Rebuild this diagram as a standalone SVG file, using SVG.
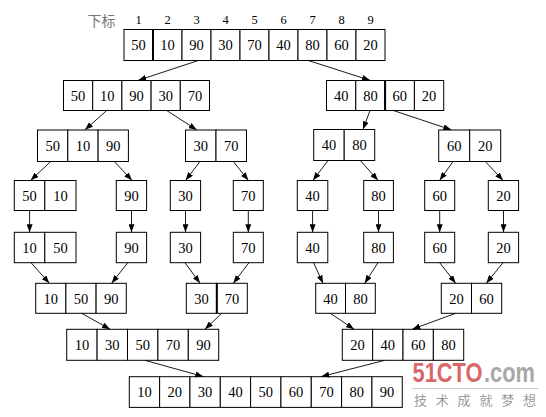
<svg xmlns="http://www.w3.org/2000/svg" width="546" height="417" viewBox="0 0 546 417">
<style>
.c{fill:#fff;stroke:#000;stroke-width:1}
.t{font-family:"Liberation Serif","Times New Roman",serif;font-size:14.5px;fill:#000;text-anchor:middle}
.i{font-family:"Liberation Serif","Times New Roman",serif;font-size:12.5px;fill:#000;text-anchor:middle}
.e{stroke:#000;stroke-width:0.9;fill:none;marker-end:url(#ah)}
.w{font-family:"Liberation Sans",Arial,sans-serif;font-weight:bold;font-size:28px}
</style>
<defs>
<marker id="ah" markerUnits="userSpaceOnUse" markerWidth="8" markerHeight="6" refX="8" refY="3" orient="auto">
<path d="M0,0 L8,3 L0,6 z" fill="#000"/>
</marker>
</defs>
<rect width="546" height="417" fill="#fff"/>

<g id="index">
<text x="101.5" y="25.5" style="font-family:'Noto Sans CJK SC',sans-serif;font-size:14px;fill:#777;text-anchor:middle">下标</text>
<text class="i" x="138.5" y="24">1</text><text class="i" x="167.5" y="24">2</text><text class="i" x="196.5" y="24">3</text><text class="i" x="225.5" y="24">4</text><text class="i" x="254.5" y="24">5</text><text class="i" x="283.5" y="24">6</text><text class="i" x="312.5" y="24">7</text><text class="i" x="341.5" y="24">8</text><text class="i" x="370.5" y="24">9</text>
</g>

<g id="n_top">
<rect class="c" x="124" y="29.5" width="29" height="31"/><rect class="c" x="153" y="29.5" width="29" height="31"/><rect class="c" x="182" y="29.5" width="29" height="31"/><rect class="c" x="211" y="29.5" width="29" height="31"/><rect class="c" x="240" y="29.5" width="29" height="31"/><rect class="c" x="269" y="29.5" width="29" height="31"/><rect class="c" x="298" y="29.5" width="29" height="31"/><rect class="c" x="327" y="29.5" width="29" height="31"/><rect class="c" x="356" y="29.5" width="29" height="31"/>
<line x1="153" y1="29.5" x2="153" y2="60.5" stroke="#000" stroke-width="2"/>
<text class="t" x="138.5" y="50">50</text><text class="t" x="167.5" y="50">10</text><text class="t" x="196.5" y="50">90</text><text class="t" x="225.5" y="50">30</text><text class="t" x="254.5" y="50">70</text><text class="t" x="283.5" y="50">40</text><text class="t" x="312.5" y="50">80</text><text class="t" x="341.5" y="50">60</text><text class="t" x="370.5" y="50">20</text>
</g>

<g id="n_r2_left">
<rect class="c" x="63.5" y="80.5" width="29.2" height="30"/><rect class="c" x="92.7" y="80.5" width="29.2" height="30"/><rect class="c" x="121.9" y="80.5" width="29.2" height="30"/><rect class="c" x="151.1" y="80.5" width="29.2" height="30"/><rect class="c" x="180.3" y="80.5" width="29.2" height="30"/>
<text class="t" x="78.1" y="100.5">50</text><text class="t" x="107.3" y="100.5">10</text><text class="t" x="136.5" y="100.5">90</text><text class="t" x="165.7" y="100.5">30</text><text class="t" x="194.9" y="100.5">70</text>
</g>
<g id="n_r2_right">
<rect class="c" x="326.5" y="80.5" width="29.3" height="30"/><rect class="c" x="355.8" y="80.5" width="29.3" height="30"/><rect class="c" x="385.1" y="80.5" width="29.3" height="30"/><rect class="c" x="414.4" y="80.5" width="29.3" height="30"/>
<line x1="385.1" y1="80.5" x2="385.1" y2="110.5" stroke="#000" stroke-width="2"/>
<text class="t" x="341.2" y="100.5">40</text><text class="t" x="370.5" y="100.5">80</text><text class="t" x="399.8" y="100.5">60</text><text class="t" x="429.1" y="100.5">20</text>
</g>

<g id="n_r3_a">
<rect class="c" x="37.5" y="130" width="30.3" height="31.5"/><rect class="c" x="67.8" y="130" width="30.3" height="31.5"/><rect class="c" x="98.1" y="130" width="30.3" height="31.5"/>
<text class="t" x="52.7" y="151">50</text><text class="t" x="83" y="151">10</text><text class="t" x="113.3" y="151">90</text>
</g>
<g id="n_r3_b">
<rect class="c" x="185.5" y="130" width="30.5" height="31.5"/><rect class="c" x="216" y="130" width="30.5" height="31.5"/>
<text class="t" x="200.8" y="151">30</text><text class="t" x="231.3" y="151">70</text>
</g>
<g id="n_r3_c">
<rect class="c" x="313.7" y="129.5" width="30.5" height="31"/><rect class="c" x="344.2" y="129.5" width="30.5" height="31"/>
<text class="t" x="329" y="150">40</text><text class="t" x="359.5" y="150">80</text>
</g>
<g id="n_r3_d">
<rect class="c" x="438.7" y="130" width="31" height="31.5"/><rect class="c" x="469.7" y="130" width="31" height="31.5"/>
<text class="t" x="454.2" y="151">60</text><text class="t" x="485.2" y="151">20</text>
</g>

<g id="n_r4_a">
<rect class="c" x="14.3" y="180.5" width="30.5" height="30"/><rect class="c" x="44.8" y="180.5" width="31.2" height="30"/>
<text class="t" x="29.6" y="200.5">50</text><text class="t" x="60.4" y="200.5">10</text>
</g>
<g id="n_r4_b"><rect class="c" x="116.3" y="180.5" width="30.3" height="30"/><text class="t" x="131.5" y="200.5">90</text></g>
<g id="n_r4_c"><rect class="c" x="170.3" y="180.5" width="30.3" height="30"/><text class="t" x="185.5" y="200.5">30</text></g>
<g id="n_r4_d"><rect class="c" x="233.3" y="180.5" width="30" height="30"/><text class="t" x="248.3" y="200.5">70</text></g>
<g id="n_r4_e"><rect class="c" x="297.3" y="180.5" width="30.5" height="30"/><text class="t" x="312.6" y="200.5">40</text></g>
<g id="n_r4_f"><rect class="c" x="363.7" y="180.5" width="29.7" height="30"/><text class="t" x="378.5" y="200.5">80</text></g>
<g id="n_r4_g"><rect class="c" x="424.7" y="180.5" width="30" height="30"/><text class="t" x="439.7" y="200.5">60</text></g>
<g id="n_r4_h"><rect class="c" x="488.3" y="180.5" width="30.3" height="30"/><text class="t" x="503.5" y="200.5">20</text></g>

<g id="n_r5_a">
<rect class="c" x="14.3" y="232.3" width="30.5" height="30.4"/><rect class="c" x="44.8" y="232.3" width="31.2" height="30.4"/>
<text class="t" x="29.6" y="252.5">10</text><text class="t" x="60.4" y="252.5">50</text>
</g>
<g id="n_r5_b"><rect class="c" x="116.3" y="232.3" width="30.3" height="30.4"/><text class="t" x="131.5" y="252.5">90</text></g>
<g id="n_r5_c"><rect class="c" x="170.3" y="232.3" width="30.3" height="30.4"/><text class="t" x="185.5" y="252.5">30</text></g>
<g id="n_r5_d"><rect class="c" x="233.3" y="232.3" width="30" height="30.4"/><text class="t" x="248.3" y="252.5">70</text></g>
<g id="n_r5_e"><rect class="c" x="297.3" y="232.3" width="30.5" height="30.4"/><text class="t" x="312.6" y="252.5">40</text></g>
<g id="n_r5_f"><rect class="c" x="363.7" y="232.3" width="29.7" height="30.4"/><text class="t" x="378.5" y="252.5">80</text></g>
<g id="n_r5_g"><rect class="c" x="424.7" y="232.3" width="30" height="30.4"/><text class="t" x="439.7" y="252.5">60</text></g>
<g id="n_r5_h"><rect class="c" x="488.3" y="232.3" width="30.3" height="30.4"/><text class="t" x="503.5" y="252.5">20</text></g>

<g id="n_r6_a">
<rect class="c" x="35.7" y="283.3" width="30.2" height="30"/><rect class="c" x="65.9" y="283.3" width="30.2" height="30"/><rect class="c" x="96.1" y="283.3" width="30.2" height="30"/>
<text class="t" x="50.8" y="303.5">10</text><text class="t" x="81" y="303.5">50</text><text class="t" x="111.2" y="303.5">90</text>
</g>
<g id="n_r6_b">
<rect class="c" x="186.3" y="283.3" width="30.5" height="30"/><rect class="c" x="216.8" y="283.3" width="30.5" height="30"/>
<line x1="216.8" y1="283.3" x2="216.8" y2="313.3" stroke="#000" stroke-width="2"/>
<text class="t" x="201.5" y="303.5">30</text><text class="t" x="232" y="303.5">70</text>
</g>
<g id="n_r6_c">
<rect class="c" x="315.7" y="283.3" width="29.8" height="30"/><rect class="c" x="345.5" y="283.3" width="29.8" height="30"/>
<text class="t" x="330.6" y="303.5">40</text><text class="t" x="360.4" y="303.5">80</text>
</g>
<g id="n_r6_d">
<rect class="c" x="441.3" y="283.3" width="30.2" height="30"/><rect class="c" x="471.5" y="283.3" width="30.2" height="30"/>
<text class="t" x="456.4" y="303.5">20</text><text class="t" x="486.6" y="303.5">60</text>
</g>

<g id="n_r7_a">
<rect class="c" x="66.7" y="329.3" width="30.4" height="31"/><rect class="c" x="97.1" y="329.3" width="30.4" height="31"/><rect class="c" x="127.5" y="329.3" width="30.4" height="31"/><rect class="c" x="157.9" y="329.3" width="30.4" height="31"/><rect class="c" x="188.3" y="329.3" width="30.4" height="31"/>
<text class="t" x="81.9" y="350">10</text><text class="t" x="112.3" y="350">30</text><text class="t" x="142.7" y="350">50</text><text class="t" x="173.1" y="350">70</text><text class="t" x="203.5" y="350">90</text>
</g>
<g id="n_r7_b">
<rect class="c" x="342.3" y="329.3" width="30.35" height="31"/><rect class="c" x="372.65" y="329.3" width="30.35" height="31"/><rect class="c" x="403" y="329.3" width="30.35" height="31"/><rect class="c" x="433.35" y="329.3" width="30.35" height="31"/>
<text class="t" x="357.5" y="350">20</text><text class="t" x="387.8" y="350">40</text><text class="t" x="418.2" y="350">60</text><text class="t" x="448.5" y="350">80</text>
</g>

<g id="n_final">
<rect class="c" x="129.3" y="376.7" width="30.33" height="30.7"/><rect class="c" x="159.63" y="376.7" width="30.33" height="30.7"/><rect class="c" x="189.96" y="376.7" width="30.33" height="30.7"/><rect class="c" x="220.29" y="376.7" width="30.33" height="30.7"/><rect class="c" x="250.62" y="376.7" width="30.33" height="30.7"/><rect class="c" x="280.95" y="376.7" width="30.33" height="30.7"/><rect class="c" x="311.28" y="376.7" width="30.33" height="30.7"/><rect class="c" x="341.61" y="376.7" width="30.33" height="30.7"/><rect class="c" x="371.94" y="376.7" width="30.33" height="30.7"/>
<text class="t" x="144.5" y="397.3">10</text><text class="t" x="174.8" y="397.3">20</text><text class="t" x="205.1" y="397.3">30</text><text class="t" x="235.5" y="397.3">40</text><text class="t" x="265.8" y="397.3">50</text><text class="t" x="296.1" y="397.3">60</text><text class="t" x="326.4" y="397.3">70</text><text class="t" x="356.8" y="397.3">80</text><text class="t" x="387.1" y="397.3">90</text>
</g>

<g id="connectors">
<line class="e" x1="198.3" y1="60.5" x2="138.3" y2="80.3"/>
<line class="e" x1="308.3" y1="60.5" x2="370" y2="80.3"/>
<line class="e" x1="106.7" y1="110.5" x2="85" y2="129.8"/>
<line class="e" x1="166.7" y1="110.5" x2="196.7" y2="129.8"/>
<line class="e" x1="370" y1="110.5" x2="363" y2="129.3"/>
<line class="e" x1="393.3" y1="110.5" x2="451.3" y2="129.8"/>
<line class="e" x1="50.7" y1="161.5" x2="30.7" y2="180.3"/>
<line class="e" x1="114.3" y1="161.5" x2="132" y2="180.3"/>
<line class="e" x1="200" y1="161.5" x2="185.7" y2="180.3"/>
<line class="e" x1="233.3" y1="161.5" x2="248.3" y2="180.3"/>
<line class="e" x1="328" y1="160.5" x2="313" y2="180.3"/>
<line class="e" x1="360.3" y1="160.5" x2="378" y2="180.3"/>
<line class="e" x1="453" y1="161.5" x2="439.7" y2="180.3"/>
<line class="e" x1="485.3" y1="161.5" x2="503" y2="180.3"/>
<line class="e" x1="29.6" y1="210.5" x2="29.6" y2="232.2"/>
<line class="e" x1="131.5" y1="210.5" x2="131.5" y2="232.2"/>
<line class="e" x1="185.5" y1="210.5" x2="185.5" y2="232.2"/>
<line class="e" x1="248.3" y1="210.5" x2="248.3" y2="232.2"/>
<line class="e" x1="312.6" y1="210.5" x2="312.6" y2="232.2"/>
<line class="e" x1="378.5" y1="210.5" x2="378.5" y2="232.2"/>
<line class="e" x1="439.7" y1="210.5" x2="439.7" y2="232.2"/>
<line class="e" x1="503.5" y1="210.5" x2="503.5" y2="232.2"/>
<line class="e" x1="31" y1="262.7" x2="49.3" y2="283.2"/>
<line class="e" x1="127.7" y1="262.7" x2="111.7" y2="283.2"/>
<line class="e" x1="185" y1="262.7" x2="200" y2="283.2"/>
<line class="e" x1="249" y1="262.7" x2="233.3" y2="283.2"/>
<line class="e" x1="313.5" y1="262.7" x2="323" y2="283.2"/>
<line class="e" x1="378" y1="262.7" x2="364.7" y2="283.2"/>
<line class="e" x1="439.7" y1="262.7" x2="455.7" y2="283.2"/>
<line class="e" x1="503" y1="262.7" x2="486.3" y2="283.2"/>
<line class="e" x1="81.7" y1="313.3" x2="110" y2="329.2"/>
<line class="e" x1="221.7" y1="313.3" x2="205" y2="329.2"/>
<line class="e" x1="330.3" y1="313.3" x2="354" y2="329.2"/>
<line class="e" x1="455.7" y1="313.3" x2="412.3" y2="329.2"/>
<line class="e" x1="145" y1="360.3" x2="203.3" y2="376.6"/>
<line class="e" x1="384.7" y1="360.3" x2="321.3" y2="376.6"/>
</g>

<g id="watermark">
<text class="w" transform="translate(412.5,381.5) scale(0.78,1)" fill="#d9686a">51CTO</text>
<text class="w" transform="translate(484,381.5) scale(0.78,1)" fill="#a8a8a8">.com</text>
<line x1="412" y1="388.5" x2="538" y2="388.5" stroke="#c8c8c8" stroke-width="1"/>
<text x="414" y="405" textLength="122" lengthAdjust="spacing" style="font-family:'Noto Sans CJK SC',sans-serif;font-size:13px;fill:#9a9a9a">技术成就梦想</text>
</g>
</svg>
